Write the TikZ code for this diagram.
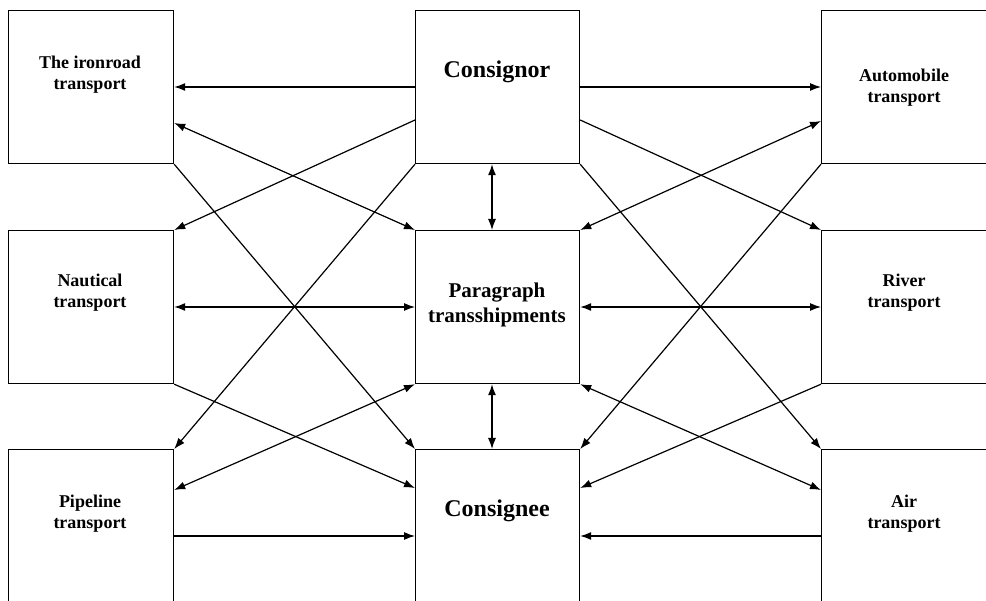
\documentclass[tikz,border=0pt]{standalone}
\usepackage{fontspec}
\setmainfont{Liberation Serif}
\usetikzlibrary{arrows.meta}
\tikzset{
  box/.style={draw, line width=1.2pt, minimum width=165pt, minimum height=153pt, inner sep=0pt, anchor=north west},
  lbl/.style={align=center, inner sep=0pt, font=\bfseries\fontsize{18}{21}\selectfont},
  biglbl/.style={align=center, inner sep=0pt, font=\bfseries\fontsize{24}{28}\selectfont},
  midlbl/.style={align=center, inner sep=0pt, font=\bfseries\fontsize{21}{25}\selectfont},
  conn/.style={line width=1.2pt, -{Latex[length=11pt,width=8pt]}},
  dconn/.style={line width=1.2pt, {Latex[length=11pt,width=8pt]}-{Latex[length=11pt,width=8pt]}}
}
\begin{document}
\begin{tikzpicture}[x=1pt,y=-1pt]
\useasboundingbox (0,0) rectangle (986,601);
\clip (0,0) rectangle (986,601);
\fill[white] (0,0) rectangle (986,601);
% boxes
\node[box] (iron) at (8,10) {};
\node[box, minimum width=164pt] (cons) at (415,10) {};
\node[box, minimum width=166pt] (auto) at (821,10) {};
\node[box] (naut) at (8,230) {};
\node[box, minimum width=164pt] (para) at (415,230) {};
\node[box, minimum width=166pt] (river) at (821,230) {};
\node[box] (pipe) at (8,449) {};
\node[box, minimum width=164pt] (cnee) at (415,449) {};
\node[box, minimum width=166pt] (air) at (821,449) {};
% labels
\node[lbl] (tiron) at (90,75) {The ironroad\\transport};
\node[biglbl] (tcons) at (497,72) {Consignor};
\node[lbl] (tauto) at (904,88) {Automobile\\transport};
\node[lbl] (tnaut) at (90,293) {Nautical\\transport};
\node[midlbl] (tpara) at (497,305) {Paragraph\\transshipments};
\node[lbl] (triver) at (904,293) {River\\transport};
\node[lbl] (tpipe) at (90,514) {Pipeline\\transport};
\node[biglbl] (tcnee) at (497,511) {Consignee};
\node[lbl] (tair) at (904,514) {Air\\transport};
% left side connectors
\draw[conn] ([yshift=-77pt]cons.north west) -- ([yshift=-77pt]iron.north east);
\draw[dconn] ([yshift=-113pt]iron.north east) -- (para.north west);
\draw[conn] (iron.south east) -- (cnee.north west);
\draw[conn] ([yshift=-110pt]cons.north west) -- (naut.north east);
\draw[conn] (cons.south west) -- (pipe.north east);
\draw[dconn] ([yshift=-77pt]naut.north east) -- ([yshift=-77pt]para.north west);
\draw[conn] (naut.south east) -- ([yshift=-39pt]cnee.north west);
\draw[dconn] ([yshift=-41pt]pipe.north east) -- (para.south west);
\draw[conn] ([yshift=-87pt]pipe.north east) -- ([yshift=-87pt]cnee.north west);
% right side connectors
\draw[conn] ([yshift=-77pt]cons.north east) -- ([yshift=-77pt]auto.north west);
\draw[dconn] ([yshift=-111pt]auto.north west) -- (para.north east);
\draw[conn] (auto.south west) -- (cnee.north east);
\draw[conn] ([yshift=-110pt]cons.north east) -- (river.north west);
\draw[conn] (cons.south east) -- (air.north west);
\draw[dconn] ([yshift=-77pt]para.north east) -- ([yshift=-77pt]river.north west);
\draw[conn] (river.south west) -- ([yshift=-39pt]cnee.north east);
\draw[dconn] ([yshift=-41pt]air.north west) -- (para.south east);
\draw[conn] ([yshift=-87pt]air.north west) -- ([yshift=-87pt]cnee.north east);
% vertical
\draw[dconn] ([xshift=77pt]cons.south west) -- ([xshift=77pt]para.north west);
\draw[dconn] ([xshift=77pt]para.south west) -- ([xshift=77pt]cnee.north west);
\end{tikzpicture}
\end{document}
